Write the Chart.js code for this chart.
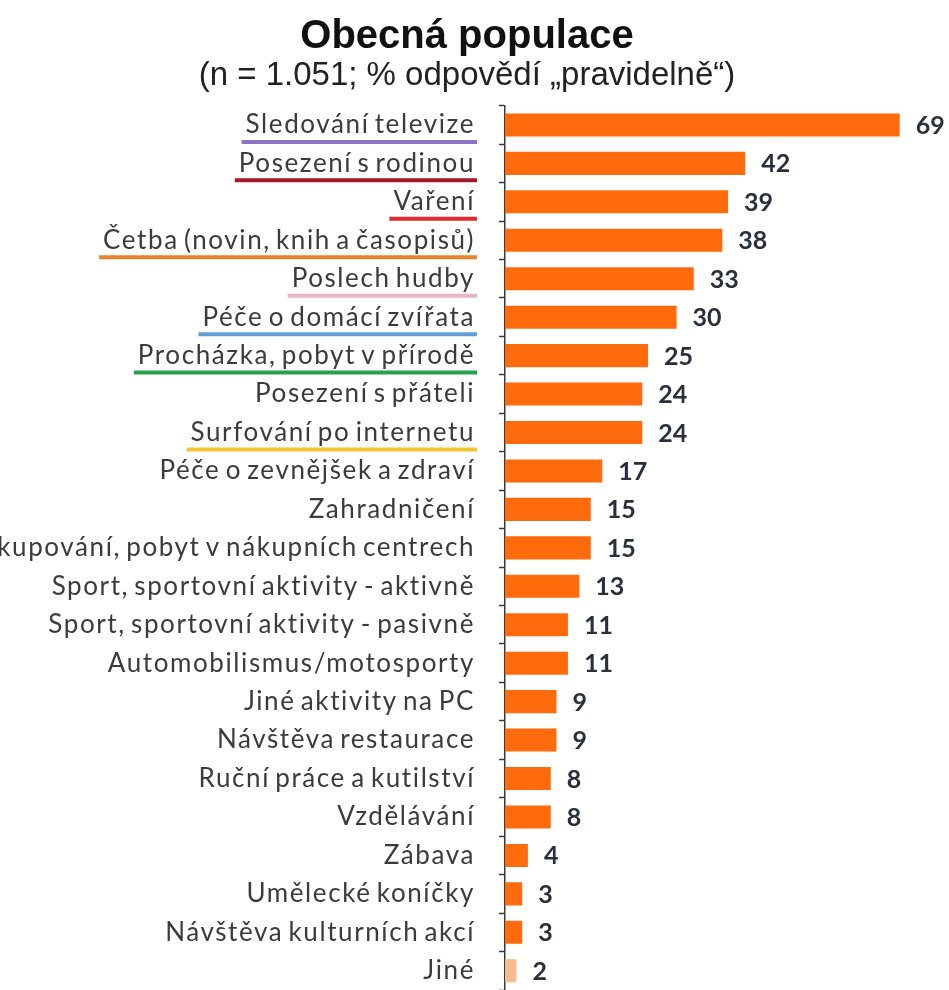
<!DOCTYPE html>
<html>
<head>
<meta charset="utf-8">
<script src="https://cdn.jsdelivr.net/npm/chart.js@4.4.1/dist/chart.umd.min.js"></script>
<style>
  html, body { margin: 0; padding: 0; background: #ffffff; }
  #wrap { width: 949px; height: 990px; position: relative; }
</style>
</head>
<body>
<div id="wrap"><canvas id="chart"></canvas></div>
<script>
// Leisure activities, share answering "regularly"
const categories = [
  'Sledování televize',
  'Posezení s rodinou',
  'Vaření',
  'Četba (novin, knih a časopisů)',
  'Poslech hudby',
  'Péče o domácí zvířata',
  'Procházka, pobyt v přírodě',
  'Posezení s přáteli',
  'Surfování po internetu',
  'Péče o zevnějšek a zdraví',
  'Zahradničení',
  'Nakupování, pobyt v nákupních centrech',
  'Sport, sportovní aktivity - aktivně',
  'Sport, sportovní aktivity - pasivně',
  'Automobilismus/motosporty',
  'Jiné aktivity na PC',
  'Návštěva restaurace',
  'Ruční práce a kutilství',
  'Vzdělávání',
  'Zábava',
  'Umělecké koníčky',
  'Návštěva kulturních akcí',
  'Jiné'
];
const values = [69, 42, 39, 38, 33, 30, 25, 24, 24, 17, 15, 15, 13, 11, 11, 9, 9, 8, 8, 4, 3, 3, 2];

// Highlighted activities get a coloured underline under their label
const highlightedLabels = [
  'Sledování televize',
  'Posezení s rodinou',
  'Vaření',
  'Četba (novin, knih a časopisů)',
  'Poslech hudby',
  'Péče o domácí zvířata',
  'Procházka, pobyt v přírodě',
  'Surfování po internetu'
];
const highlightColors = ['#8f72c4', '#a8182c', '#e12a2e', '#e8822c', '#e9b4c6', '#5f9fd6', '#25a24c', '#f1c232'];

const titleText = 'Obecná populace';
const subtitleText = '(n = 1.051; % odpovědí „pravidelně“)';

const BAR = '#ff6a0d';
const BAR_OTHER = '#f6bb8e';
const LABEL_FONT = { family: 'Lato, "Open Sans", sans-serif', size: 26 };
const LETTER_SPACING = '1.6px';
const WORD_SPACING = '-3px';
const AXIS_WIDTH = 505;
const TICK_LEN = 6;
const TICK_PAD = 24;

const barColors = categories.map(c => (c === 'Jiné' ? BAR_OTHER : BAR));

// Numbers printed just past the end of each bar
const valueLabels = {
  id: 'valueLabels',
  afterDatasetsDraw(chart) {
    const { ctx } = chart;
    const meta = chart.getDatasetMeta(0);
    ctx.save();
    ctx.font = 'bold 25px Lato, "Open Sans", sans-serif';
    ctx.fillStyle = '#2a2f3c';
    ctx.textAlign = 'left';
    ctx.textBaseline = 'middle';
    meta.data.forEach((bar, i) => {
      ctx.fillText(String(values[i]), bar.x + 16, bar.y + 1);
    });
    ctx.restore();
  }
};

// Coloured underlines beneath the highlighted category labels
const labelUnderlines = {
  id: 'labelUnderlines',
  afterDraw(chart) {
    const { ctx } = chart;
    const yScale = chart.scales.y;
    const right = yScale.right - TICK_LEN - TICK_PAD;
    ctx.save();
    ctx.font = `${LABEL_FONT.size}px ${LABEL_FONT.family}`;
    ctx.letterSpacing = LETTER_SPACING;
    ctx.wordSpacing = WORD_SPACING;
    ctx.lineWidth = 4;
    highlightedLabels.forEach((label, k) => {
      const idx = categories.indexOf(label);
      if (idx < 0) return;
      const w = ctx.measureText(label).width;
      const y = yScale.getPixelForValue(idx) + 17;
      ctx.strokeStyle = highlightColors[k];
      ctx.beginPath();
      ctx.moveTo(right - w - 4, y);
      ctx.lineTo(right + 2, y);
      ctx.stroke();
    });
    ctx.restore();
  }
};

new Chart(document.getElementById('chart'), {
  type: 'bar',
  data: {
    labels: categories,
    datasets: [{
      data: values,
      backgroundColor: barColors,
      borderWidth: 0,
      barPercentage: 0.6,
      categoryPercentage: 1.0
    }]
  },
  options: {
    indexAxis: 'y',
    responsive: true,
    maintainAspectRatio: false,
    animation: false,
    layout: { padding: { left: 0, right: 15, top: 0, bottom: 0 } },
    plugins: {
      legend: { display: false },
      tooltip: { enabled: false },
      title: {
        display: true,
        text: titleText,
        color: '#111111',
        font: { family: '"Liberation Sans", Arial, sans-serif', size: 40, weight: 'bold', lineHeight: 1.2 },
        padding: { top: 13, bottom: 0 }
      },
      subtitle: {
        display: true,
        text: subtitleText,
        color: '#222222',
        font: { family: '"Liberation Sans", Arial, sans-serif', size: 33, lineHeight: 0.9 },
        padding: { top: 0, bottom: 15 }
      }
    },
    scales: {
      x: {
        display: false,
        min: 0,
        max: 75
      },
      y: {
        afterFit(scale) {
          scale.width = AXIS_WIDTH;
          scale.paddingTop = 0;
          scale.paddingBottom = 0;
        },
        afterUpdate(scale) {
          // category labels are set a little wider than the plain font
          if (scale._spacedLabels) return;
          const drawLabels = scale.drawLabels.bind(scale);
          scale.drawLabels = function (area) {
            const c = this.ctx;
            c.save();
            c.letterSpacing = LETTER_SPACING;
            c.wordSpacing = WORD_SPACING;
            drawLabels(area);
            c.restore();
          };
          scale._spacedLabels = true;
        },
        border: { display: true, color: '#3a3a3a', width: 1.5 },
        grid: {
          display: true,
          drawOnChartArea: false,
          drawTicks: true,
          tickLength: TICK_LEN,
          tickWidth: 1.5,
          tickColor: '#3a3a3a',
          offset: true
        },
        ticks: {
          autoSkip: false,
          padding: TICK_PAD,
          color: '#3b3b3b',
          font: LABEL_FONT
        }
      }
    }
  },
  plugins: [valueLabels, labelUnderlines]
});
</script>
</body>
</html>
